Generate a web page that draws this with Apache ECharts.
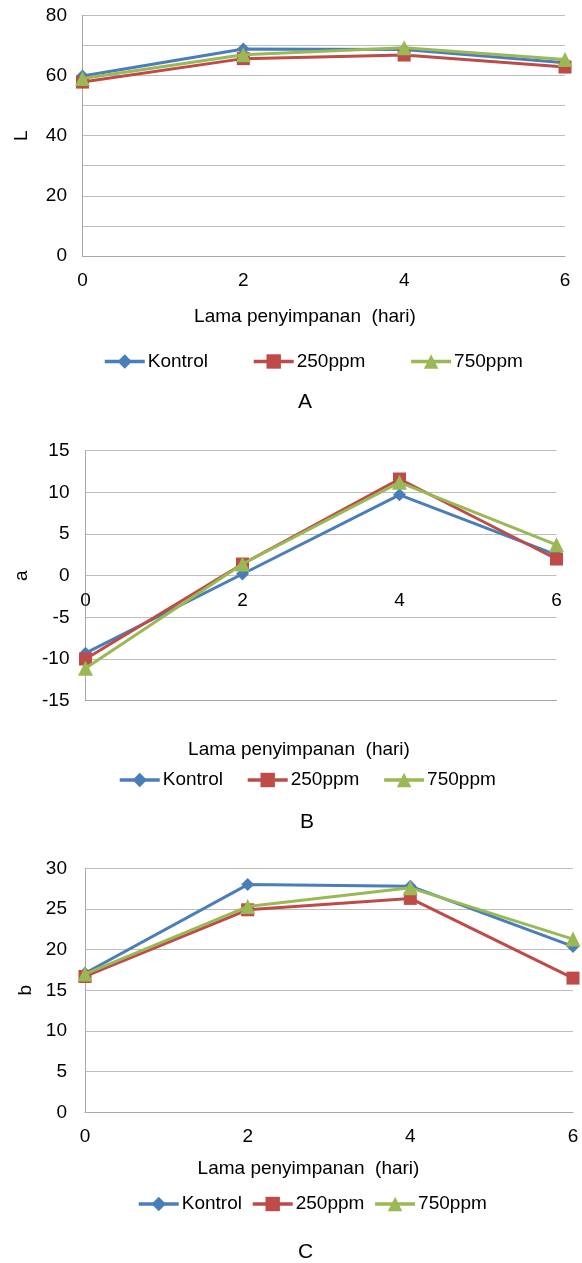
<!DOCTYPE html>
<html>
<head>
<meta charset="utf-8">
<script src="https://cdn.jsdelivr.net/npm/echarts@6/dist/echarts.min.js"></script>
<style>
  html, body { margin: 0; padding: 0; background: #ffffff; }
  #chart { width: 582px; height: 1263px; }
</style>
</head>
<body>
<div id="chart"></div>
<script>
// ---- data ----
const days = ['0', '2', '4', '6'];
const seriesNames = ['Kontrol', '250ppm', '750ppm'];

const L_kontrol = [59.8, 68.8, 68.6, 64.2];
const L_250ppm  = [57.8, 65.6, 66.8, 62.8];
const L_750ppm  = [59.0, 66.9, 69.2, 65.3];

const a_kontrol = [-9.3, 0.2, 9.7, 2.5];
const a_250ppm  = [-10.0, 1.4, 11.6, 2.0];
const a_750ppm  = [-11.1, 1.4, 11.2, 3.7];

const b_kontrol = [17.1, 28.0, 27.8, 20.4];
const b_250ppm  = [16.7, 24.9, 26.3, 16.5];
const b_750ppm  = [17.0, 25.3, 27.6, 21.3];

const panelLetters = ['A', 'B', 'C'];
const yNames = ['L', 'a', 'b'];
const xTitle = 'Lama penyimpanan  (hari)';

// ---- styles ----
const FONT = 'Liberation Sans, Arial, sans-serif';
const colors = ['#4A7EBB', '#BE4B48', '#98B954'];
const symbols = ['diamond', 'rect', 'triangle'];
const symbolSizes = [13, 13, 15];
const gridColor = '#BDBDBD';
const axisColor = '#A8A8A8';

const grids = [
  { left: 82.5, top: 15.3, width: 482.5, height: 240.7 },
  { left: 85.5, top: 450.7, width: 471, height: 250 },
  { left: 85, top: 868.3, width: 488, height: 244 }
];
const yRanges = [
  { min: 0, max: 80, interval: 10, labelEvery: 20 },
  { min: -15, max: 15, interval: 5, labelEvery: 5 },
  { min: 0, max: 30, interval: 5, labelEvery: 5 }
];
// panel B: category labels sit on the zero line, so they are pulled up from the bottom edge
const xLabelMargin = [15, -109.5, 15];
const xNameGap = [51.5, 40, 47.2];
const xNameShift = [37.5, 44, 41];
const yNameGap = [51, 50, 46.5];
const yLabelMargin = [15.5, 16, 18];
const legendPos = [
  { left: 103, top: 352, itemGap: 44 },
  { left: 118, top: 770.5, itemGap: 23 },
  { left: 137, top: 1194.5, itemGap: 9 }
];
const letterPos = [[305, 402], [307, 822], [305.5, 1252]];

const panelData = [
  [L_kontrol, L_250ppm, L_750ppm],
  [a_kontrol, a_250ppm, a_750ppm],
  [b_kontrol, b_250ppm, b_750ppm]
];

const xAxes = [], yAxes = [], series = [], legends = [], graphics = [];
for (let p = 0; p < 3; p++) {
  xAxes.push({
    type: 'category', gridIndex: p, data: days, boundaryGap: false,
    axisLine: { show: true, onZero: false, lineStyle: { color: axisColor, width: 1 } },
    axisTick: { show: false },
    axisLabel: { color: '#000', fontFamily: FONT, fontSize: 19, margin: xLabelMargin[p], hideOverlap: false },
    splitLine: { show: false },
    name: xTitle, nameLocation: 'middle', nameGap: xNameGap[p],
    nameTextStyle: { color: '#000', fontFamily: FONT, fontSize: 19, padding: [0, xNameShift[p], 0, 0] }
  });
  const yr = yRanges[p];
  yAxes.push({
    type: 'value', gridIndex: p, min: yr.min, max: yr.max, interval: yr.interval,
    axisLine: { show: true, onZero: false, lineStyle: { color: axisColor, width: 1 } },
    axisTick: { show: false },
    axisLabel: {
      color: '#000', fontFamily: FONT, fontSize: 19, margin: yLabelMargin[p],
      formatter: v => (v % yr.labelEvery === 0 ? String(v) : '')
    },
    splitLine: { show: true, lineStyle: { color: gridColor, width: 1 } },
    name: yNames[p], nameLocation: 'middle', nameGap: yNameGap[p],
    nameTextStyle: { color: '#000', fontFamily: FONT, fontSize: 19 }
  });
  for (let s = 0; s < 3; s++) {
    series.push({
      type: 'line', name: seriesNames[s], xAxisIndex: p, yAxisIndex: p,
      data: panelData[p][s],
      symbol: symbols[s], symbolSize: symbolSizes[s], showAllSymbol: true,
      lineStyle: { color: colors[s], width: 3 },
      itemStyle: { color: colors[s] },
      animation: false, z: 2 + s
    });
  }
  legends.push({
    left: legendPos[p].left, top: legendPos[p].top, itemGap: legendPos[p].itemGap,
    orient: 'horizontal', padding: 0, itemWidth: 40, itemHeight: 18,
    data: seriesNames,
    lineStyle: { width: 3.5 },
    textStyle: { color: '#000', fontFamily: FONT, fontSize: 19, padding: [0, 0, 0, -2] },
    selectedMode: false
  });
  graphics.push({
    type: 'text', x: letterPos[p][0], y: letterPos[p][1],
    style: { text: panelLetters[p], fill: '#000', font: '21px ' + FONT, textAlign: 'center', textVerticalAlign: 'middle' }
  });
}

const chart = echarts.init(document.getElementById('chart'), null, { renderer: 'canvas' });
chart.setOption({
  animation: false,
  backgroundColor: '#ffffff',
  grid: grids,
  xAxis: xAxes,
  yAxis: yAxes,
  legend: legends,
  series: series,
  graphic: graphics
});
</script>
</body>
</html>
